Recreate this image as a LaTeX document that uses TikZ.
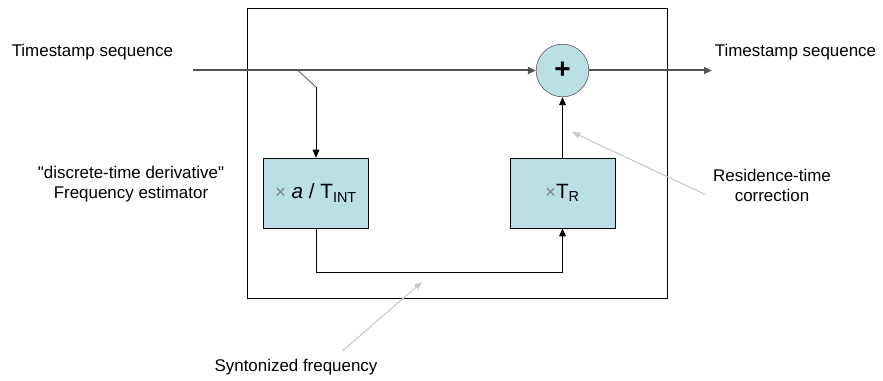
\documentclass[tikz,border=0pt]{standalone}
\usepackage{fontspec}
\setmainfont{Liberation Sans}
\usetikzlibrary{arrows.meta}
\definecolor{blockfill}{RGB}{187,224,228}
\definecolor{notegray}{RGB}{200,200,200}
\newcommand{\mult}{{\color{black!50}\fontsize{14}{14}\selectfont ×}}

\begin{document}
\begin{tikzpicture}[x=0.75pt, y=-0.75pt,
                        blk/.style={draw, fill=blockfill, minimum width=79pt, minimum height=52.5pt, inner sep=0pt, font=\fontsize{15.5}{18}\selectfont},
                        adder/.style={circle, draw=black!70, fill=blockfill, minimum size=39.5pt, inner sep=0pt},
                        lbl/.style={font=\fontsize{12.7}{15}\selectfont, align=center, inner sep=0pt},
                        sig/.style={-{Triangle[length=6pt, width=5pt]}, line width=0.75pt},
                        bus/.style={draw=black!68, line width=1.5pt},
                        note/.style={-{Triangle[length=6pt, width=4.5pt]}, draw=notegray, fill=notegray, line width=0.8pt}]
                        \useasboundingbox (0, 0) rectangle (883, 381);
                        \draw[line width=0.7pt] (247, 8) rectangle (667, 298);
                        \node[blk] (est) at (316, 193) {\mult{} \textit{a} / T\textsubscript{INT}};
                        \node[blk] (mul) at (562.5, 193) {\mult T\textsubscript{R}};
                        \node[adder] (add) at (562.5, 70.5) {\fontsize{21}{21}\bfseries +};
                        \coordinate (in) at (193, 70.5);
                        \coordinate (tap) at (298, 70.5);
                        \coordinate (bend) at (316, 87);
                        \coordinate (out) at (712, 70.5);
                        \node[lbl, anchor=west] (tsin) at (11.5, 52) {Timestamp sequence};
                        \node[lbl] (tsout) at (795.5, 52) {Timestamp sequence};
                        \node[lbl] (dtd) at (131, 184) {\textquotedbl discrete-time derivative\textquotedbl\\Frequency estimator};
                        \node[lbl] (rtc) at (772, 185) {Residence-time\\correction};
                        \node[lbl] (syn) at (296, 367) {Syntonized frequency};
                        \coordinate (rtctip) at (572, 132);
                        \coordinate (syntip) at (422, 282);
                        \draw[sig, bus] (in) -- (add);
                        \draw[sig, bus] (add) -- (out);
                        \draw[draw=black!60, line width=0.7pt] (tap) -- (bend);
                        \draw[sig] (bend) -- (est);
                        \draw[sig] (mul) -- (add);
                        \draw[sig] (est.south) -- ++(0, 44) -| (mul.south);
                        \draw[note] ([xshift=-6pt, yshift=-7pt]rtc.west) -- (rtctip);
                        \draw[note] ([xshift=35pt, yshift=6pt]syn.north) -- (syntip);
                \end{tikzpicture}
\end{document}
